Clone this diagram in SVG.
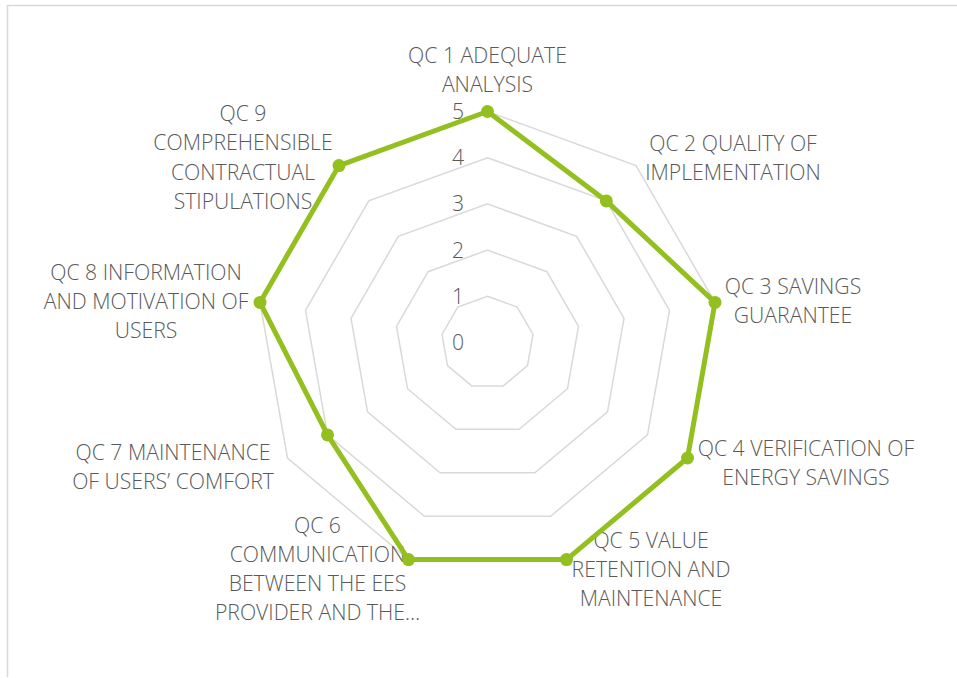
<svg xmlns="http://www.w3.org/2000/svg" width="957" height="678" viewBox="0 0 957 678">
<style>
.grid{fill:none;stroke:#d9d9d9;stroke-width:1.5}
.lbl{font-family:"Open Sans","Liberation Sans",sans-serif;font-size:21.2px;font-weight:300;fill:#595959;text-anchor:middle}
.tick{font-family:"Open Sans","Liberation Sans",sans-serif;font-size:21.2px;font-weight:300;fill:#595959;text-anchor:end}
.series{fill:none;stroke:#93bf1f;stroke-width:5;stroke-linejoin:round}
.mk{fill:#93bf1f}
</style>
<rect width="957" height="678" fill="#ffffff"/>
<g id="frame">
<path d="M7.5,677 V5.5 H957" fill="none" stroke="#d9d9d9" stroke-width="1.5"/>
</g>
<g id="gridlines">
<polygon class="grid" points="487.5,296.3 517.2,307.1 533.0,334.5 527.5,365.6 503.3,385.9 471.7,385.9 447.5,365.6 442.0,334.5 457.8,307.1"/>
<polygon class="grid" points="487.5,250.1 546.9,271.7 578.5,326.5 567.5,388.7 519.1,429.3 455.9,429.3 407.5,388.7 396.5,326.5 428.1,271.7"/>
<polygon class="grid" points="487.5,203.9 576.6,236.3 624.0,318.4 607.5,411.8 534.9,472.7 440.1,472.7 367.5,411.8 351.0,318.4 398.4,236.3"/>
<polygon class="grid" points="487.5,157.7 606.3,200.9 669.5,310.4 647.5,434.9 550.7,516.2 424.3,516.2 327.5,434.9 305.5,310.4 368.7,200.9"/>
<polygon class="grid" points="487.5,111.5 636.0,165.6 715.0,302.4 687.5,458.0 566.5,559.6 408.5,559.6 287.5,458.0 260.0,302.4 339.0,165.6"/>
</g>
<g id="ticks">
<text class="tick" x="464" y="119">5</text>
<text class="tick" x="464" y="165.2">4</text>
<text class="tick" x="464" y="211.4">3</text>
<text class="tick" x="464" y="257.6">2</text>
<text class="tick" x="464" y="303.8">1</text>
<text class="tick" x="464" y="350">0</text>
</g>
<g id="qc1"><text class="lbl" x="487.5" y="62.5">QC 1 ADEQUATE</text><text class="lbl" x="487.5" y="92">ANALYSIS</text></g>
<g id="qc2"><text class="lbl" x="733" y="150.5">QC 2 QUALITY OF</text><text class="lbl" x="733" y="179.5">IMPLEMENTATION</text></g>
<g id="qc3"><text class="lbl" x="793" y="293.5">QC 3 SAVINGS</text><text class="lbl" x="793" y="323">GUARANTEE</text></g>
<g id="qc4"><text class="lbl" x="806" y="455.5">QC 4 VERIFICATION OF</text><text class="lbl" x="806" y="484.5">ENERGY SAVINGS</text></g>
<g id="qc5"><text class="lbl" x="651" y="547.5">QC 5 VALUE</text><text class="lbl" x="651" y="576.5">RETENTION AND</text><text class="lbl" x="651" y="605.5">MAINTENANCE</text></g>
<g id="qc6"><text class="lbl" x="317.5" y="532.5">QC 6</text><text class="lbl" x="317.5" y="562">COMMUNICATION</text><text class="lbl" x="317.5" y="591">BETWEEN THE EES</text><text class="lbl" x="317.5" y="620">PROVIDER AND THE…</text></g>
<g id="qc7"><text class="lbl" x="173" y="459.5">QC 7 MAINTENANCE</text><text class="lbl" x="173" y="488.5">OF USERS’ COMFORT</text></g>
<g id="qc8"><text class="lbl" x="146" y="279.5">QC 8 INFORMATION</text><text class="lbl" x="146" y="308.5">AND MOTIVATION OF</text><text class="lbl" x="146" y="337.5">USERS</text></g>
<g id="qc9"><text class="lbl" x="243" y="120.5">QC 9</text><text class="lbl" x="243" y="150">COMPREHENSIBLE</text><text class="lbl" x="243" y="179.5">CONTRACTUAL</text><text class="lbl" x="243" y="208.5">STIPULATIONS</text></g>
<g id="series">
<polygon class="series" points="487.5,111.5 606.3,200.9 715.0,302.4 687.5,458.0 566.5,559.6 408.5,559.6 327.5,434.9 260.0,302.4 339.0,165.6"/>
<circle class="mk" cx="487.5" cy="111.5" r="6.5"/>
<circle class="mk" cx="606.3" cy="200.9" r="6.5"/>
<circle class="mk" cx="715.0" cy="302.4" r="6.5"/>
<circle class="mk" cx="687.5" cy="458.0" r="6.5"/>
<circle class="mk" cx="566.5" cy="559.6" r="6.5"/>
<circle class="mk" cx="408.5" cy="559.6" r="6.5"/>
<circle class="mk" cx="327.5" cy="434.9" r="6.5"/>
<circle class="mk" cx="260.0" cy="302.4" r="6.5"/>
<circle class="mk" cx="339.0" cy="165.6" r="6.5"/>
</g>
</svg>
